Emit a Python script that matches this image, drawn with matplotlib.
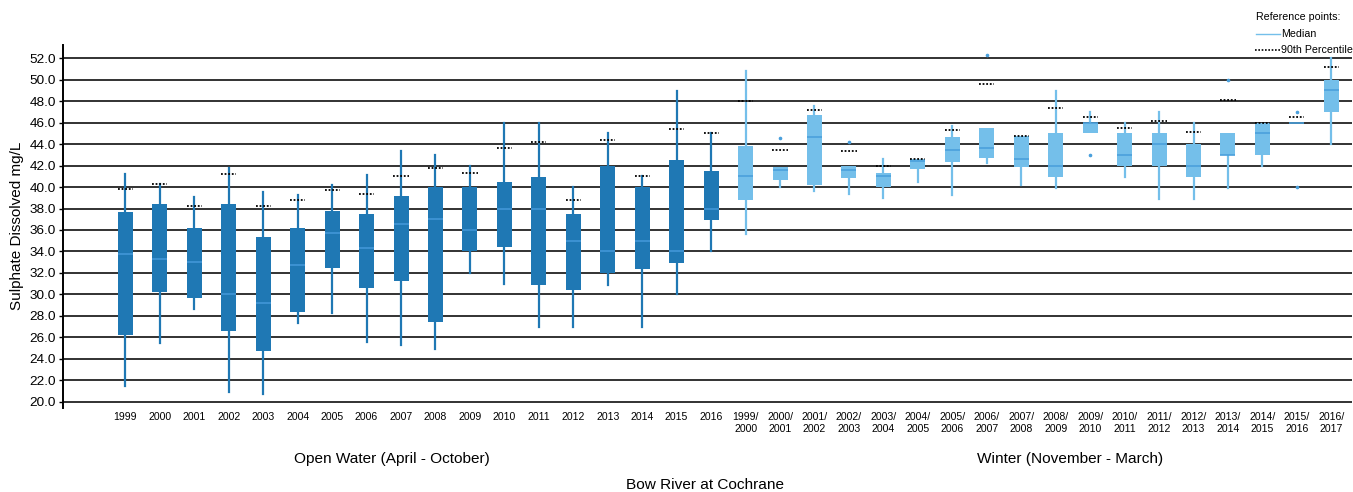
import matplotlib
matplotlib.use("Agg")
import matplotlib.pyplot as plt
from matplotlib.lines import Line2D

plt.rcParams['font.family'] = ['Liberation Sans', 'DejaVu Sans']

# Sulphate (dissolved, mg/L), Bow River at Cochrane
open_labels = ["1999", "2000", "2001", "2002", "2003", "2004", "2005", "2006", "2007",
               "2008", "2009", "2010", "2011", "2012", "2013", "2014", "2015", "2016"]
open_hi = [41.2, 40.3, 39.1, 41.8, 39.5, 39.3, 40.2, 41.1, 43.35,
           43.0, 42.0, 46.0, 46.0, 40.0, 45.0, 41.0, 48.95, 45.0]
open_q3 = [37.65, 38.4, 36.15, 38.4, 35.3, 36.15, 37.8, 37.5, 39.15,
           40.0, 40.0, 40.5, 40.95, 37.5, 42.0, 40.0, 42.5, 41.5]
open_med = [33.8, 33.3, 33.0, 30.0, 29.2, 32.75, 35.7, 34.3, 36.6,
            37.0, 36.0, 38.0, 38.0, 35.0, 34.0, 35.0, 34.0, 38.0]
open_q1 = [26.25, 30.25, 29.7, 26.6, 24.7, 28.4, 32.5, 30.55, 31.2,
           27.45, 34.0, 34.45, 30.9, 30.45, 32.0, 32.4, 32.95, 36.95]
open_lo = [21.5, 25.5, 28.6, 20.9, 20.7, 27.3, 28.3, 25.6, 25.3,
           24.95, 32.0, 31.0, 27.0, 27.0, 30.9, 27.0, 30.0, 34.0]
open_p90 = [39.8, 40.25, 38.25, 41.2, 38.25, 38.75, 39.7, 39.35, 41.05,
            41.8, 41.35, 43.6, 44.2, 38.75, 44.4, 41.0, 45.4, 45.0]

winter_labels = ["1999/\n2000", "2000/\n2001", "2001/\n2002", "2002/\n2003", "2003/\n2004",
                 "2004/\n2005", "2005/\n2006", "2006/\n2007", "2007/\n2008", "2008/\n2009",
                 "2009/\n2010", "2010/\n2011", "2011/\n2012", "2012/\n2013", "2013/\n2014",
                 "2014/\n2015", "2015/\n2016", "2016/\n2017"]
winter_hi = [50.8, 41.9, 47.55, 42.0, 42.6, 42.6, 45.7, 45.5, 44.75,
             48.95, 46.95, 46.0, 46.95, 46.0, 45.05, 46.0, 46.0, 52.0]
winter_q3 = [43.8, 41.9, 46.7, 42.0, 41.3, 42.6, 44.65, 45.5, 44.75,
             45.05, 46.0, 45.05, 45.05, 44.0, 45.05, 46.0, 46.0, 50.0]
winter_med = [41.0, 41.6, 44.65, 41.6, 41.0, 42.45, 43.5, 43.6, 42.6,
              42.0, 46.0, 43.0, 44.0, 42.0, 43.0, 45.0, 46.0, 49.0]
winter_q1 = [38.8, 40.65, 40.2, 40.8, 40.05, 41.7, 42.35, 42.75, 41.85,
             40.95, 45.0, 42.0, 42.0, 40.95, 43.0, 43.0, 46.0, 46.95]
winter_lo = [35.6, 40.05, 39.6, 39.4, 39.0, 40.5, 39.3, 42.2, 40.2,
             39.95, 45.0, 40.95, 38.9, 38.9, 39.95, 42.0, 46.0, 44.0]
winter_p90 = [48.05, 43.5, 47.2, 43.35, 42.0, 42.6, 45.3, 49.6, 44.75,
              47.4, 46.55, 45.55, 46.2, 45.15, 48.1, 46.0, 46.55, 51.2]
winter_out = [[], [44.6], [], [44.2], [], [], [], [52.3], [],
              [], [43.0], [], [], [], [50.0], [], [46.95, 40.0], []]

y_ticks = [20.0, 22.0, 24.0, 26.0, 28.0, 30.0, 32.0, 34.0, 36.0,
           38.0, 40.0, 42.0, 44.0, 46.0, 48.0, 50.0, 52.0]

DARK = "#1f78b4"
DARK_MED = "#4197d8"
LIGHT = "#74bfea"
LIGHT_MED = "#4aa0dc"

W, H = 1353, 492
fig = plt.figure(figsize=(W / 100, H / 100), dpi=100)
ax = fig.add_axes([63 / W, 1 - 408 / H, (1352 - 63) / W, (408 - 45) / H])


def stats(lo, q1, med, q3, hi, out=None):
    return [dict(whislo=a, q1=b, med=c, q3=d, whishi=e, fliers=(f or []))
            for a, b, c, d, e, f in zip(lo, q1, med, q3, hi, out or [None] * len(lo))]


n_open = len(open_labels)
n_win = len(winter_labels)
pos_open = list(range(1, n_open + 1))
pos_win = list(range(n_open + 1, n_open + n_win + 1))
bw = 0.435


def draw(st, pos, face, medc):
    ax.bxp(st, positions=pos, widths=bw, patch_artist=True, showcaps=False,
           boxprops=dict(facecolor=face, edgecolor=face, linewidth=0),
           whiskerprops=dict(color=face, linewidth=1.6),
           medianprops=dict(color=medc, linewidth=1.2),
           flierprops=dict(marker='o', markersize=1.6, markerfacecolor=LIGHT_MED,
                           markeredgecolor=LIGHT_MED),
           zorder=3)


draw(stats(open_lo, open_q1, open_med, open_q3, open_hi), pos_open, DARK, DARK_MED)
draw(stats(winter_lo, winter_q1, winter_med, winter_q3, winter_hi, winter_out),
     pos_win, LIGHT, LIGHT_MED)

# 90th percentile reference marks
allpos = pos_open + pos_win
allp90 = open_p90 + winter_p90
ax.hlines(allp90, [p - 0.22 for p in allpos], [p + 0.22 for p in allpos],
          colors='black', linestyles=(0, (1, 1)), linewidth=1.3, zorder=4)

ax.set_xlim(-0.81, n_open + n_win + 0.6)
ax.set_ylim(19.41, 53.24)
ax.set_yticks(y_ticks)
ax.set_yticklabels([f"{v:.1f}" for v in y_ticks], fontsize=9.7)
ax.yaxis.grid(True, color='#222222', linewidth=1.3)
ax.set_axisbelow(True)
ax.set_xticks(allpos)
ax.set_xticklabels(open_labels + winter_labels, fontsize=7.6, linespacing=1.2)
ax.tick_params(axis='x', length=0, pad=3)
ax.tick_params(axis='y', length=3, width=1, pad=2)
for s in ['top', 'right', 'bottom']:
    ax.spines[s].set_visible(False)
ax.spines['left'].set_linewidth(1.4)

fig.text(17 / W, 1 - 226 / H, "Sulphate Dissolved mg/L", rotation=90,
         ha='center', va='center', fontsize=11)
fig.text(392 / W, 1 - 459 / H, "Open Water (April - October)", ha='center',
         va='center', fontsize=11.1)
fig.text(1070 / W, 1 - 459 / H, "Winter (November - March)", ha='center',
         va='center', fontsize=11.1)
fig.text(705 / W, 1 - 485 / H, "Bow River at Cochrane", ha='center',
         va='center', fontsize=11.1)

# Reference-point key
fig.text(1256 / W, 1 - 17 / H, "Reference points:", ha='left', va='center', fontsize=7.7)
fig.add_artist(Line2D([1256 / W, 1280 / W], [1 - 34 / H, 1 - 34 / H],
                      color=LIGHT, linewidth=1.0))
fig.text(1281 / W, 1 - 34 / H, "Median", ha='left', va='center', fontsize=7.7)
fig.add_artist(Line2D([1255 / W, 1280 / W], [1 - 50 / H, 1 - 50 / H],
                      color='black', linewidth=1.2, linestyle=(0, (1, 1))))
fig.text(1281 / W, 1 - 50 / H, "90th Percentile", ha='left', va='center', fontsize=7.7)

fig.savefig("out.png", dpi=100)
